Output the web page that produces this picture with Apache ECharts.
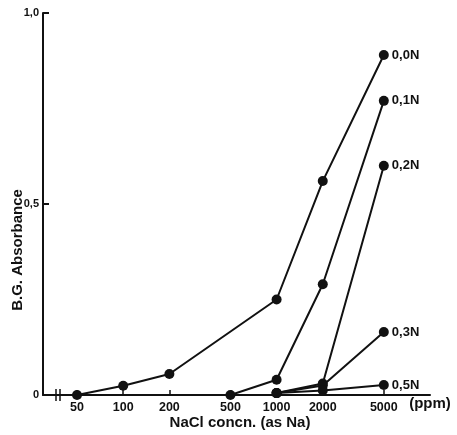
<!DOCTYPE html>
<html lang="en">
<head>
    <meta charset="UTF-8">
    <script type="text/javascript" src="https://cdn.jsdelivr.net/npm/echarts@6/dist/echarts.min.js"></script>
    <style>
        html, body { margin: 0; padding: 0; background: #fff; }
    </style>
</head>
<body>
    <div id="main" style="width: 457px;height: 435px;"></div>

    <script type="text/javascript">
        // tick values
        var xTicks = [50, 100, 200, 500, 1000, 2000, 5000];
        var yTicks = [0, 0.5, 1.0];

        // NaCl concn. (ppm) and B.G. absorbance per normality
        var seriesNames = ['0,0N', '0,1N', '0,2N', '0,3N', '0,5N'];
        var conc00 = [50, 100, 200, 1000, 2000, 5000];
        var abs00 = [0, 0.024, 0.055, 0.25, 0.56, 0.89];
        var conc01 = [500, 1000, 2000, 5000];
        var abs01 = [0, 0.04, 0.29, 0.77];
        var conc02 = [1000, 2000, 5000];
        var abs02 = [0.005, 0.03, 0.6];
        var conc03 = [1000, 2000, 5000];
        var abs03 = [0.005, 0.025, 0.165];
        var conc05 = [1000, 2000, 5000];
        var abs05 = [0.005, 0.012, 0.026];

        var ink = '#111';
        var font = 'Liberation Sans';

        function pairs(xs, ys) {
            return xs.map(function (x, i) { return [x, ys[i]]; });
        }

        function makeSeries(name, xs, ys) {
            var d = pairs(xs, ys);
            var last = d.length - 1;
            return {
                name: name,
                type: 'line',
                symbol: 'circle',
                symbolSize: 10,
                lineStyle: { color: ink, width: 2 },
                itemStyle: { color: ink },
                z: 3,
                data: d.map(function (p, i) {
                    if (i !== last) return p;
                    return {
                        value: p,
                        label: {
                            show: true,
                            position: 'right',
                            distance: 3,
                            formatter: name,
                            color: ink,
                            fontFamily: font,
                            fontWeight: 'bold',
                            fontSize: 13
                        }
                    };
                })
            };
        }

        var myChart = echarts.init(document.getElementById('main'));
        var option = {
            backgroundColor: '#fff',
            animation: false,
            grid: { left: 43, right: 27, top: 13, bottom: 40 },
            xAxis: {
                type: 'log',
                logBase: 10,
                min: 30,
                max: 10000,
                axisLine: { lineStyle: { color: ink, width: 2 } },
                axisTick: { inside: true, length: 5, customValues: xTicks, lineStyle: { color: ink, width: 1.5 } },
                axisLabel: {
                    customValues: xTicks,
                    color: ink,
                    fontFamily: font,
                    fontSize: 12.5,
                    fontWeight: 'bold',
                    margin: 6,
                    formatter: function (v) { return String(Math.round(v)); }
                },
                splitLine: { show: false },
                minorTick: { show: false }
            },
            yAxis: {
                type: 'value',
                min: 0,
                max: 1.0,
                axisLine: { show: true, lineStyle: { color: ink, width: 2 } },
                axisTick: { show: true, inside: true, length: 6, customValues: yTicks, lineStyle: { color: ink, width: 2 } },
                axisLabel: {
                    customValues: yTicks,
                    color: ink,
                    fontFamily: font,
                    fontSize: 11,
                    fontWeight: 'bold',
                    margin: 4,
                    formatter: function (v) {
                        return v === 0 ? '0' : v.toFixed(1).replace('.', ',');
                    }
                },
                splitLine: { show: false }
            },
            graphic: [
                {
                    type: 'text',
                    x: 18, y: 250,
                    rotation: Math.PI / 2,
                    style: {
                        text: 'B.G. Absorbance',
                        fill: ink,
                        font: 'bold 15px "Liberation Sans"',
                        align: 'center',
                        verticalAlign: 'middle'
                    }
                },
                {
                    type: 'text',
                    x: 240, y: 423,
                    style: {
                        text: 'NaCl concn. (as Na)',
                        fill: ink,
                        font: 'bold 15px "Liberation Sans"',
                        align: 'center',
                        verticalAlign: 'middle'
                    }
                },
                {
                    type: 'text',
                    x: 430, y: 404,
                    style: {
                        text: '(ppm)',
                        fill: ink,
                        font: 'bold 15px "Liberation Sans"',
                        align: 'center',
                        verticalAlign: 'middle'
                    }
                },
                // axis break mark
                {
                    type: 'line',
                    shape: { x1: 56, y1: 389, x2: 56, y2: 401 },
                    style: { stroke: ink, lineWidth: 1.5 }
                },
                {
                    type: 'line',
                    shape: { x1: 60, y1: 389, x2: 60, y2: 401 },
                    style: { stroke: ink, lineWidth: 1.5 }
                }
            ],
            series: [
                makeSeries(seriesNames[0], conc00, abs00),
                makeSeries(seriesNames[1], conc01, abs01),
                makeSeries(seriesNames[2], conc02, abs02),
                makeSeries(seriesNames[3], conc03, abs03),
                makeSeries(seriesNames[4], conc05, abs05)
            ]
        };
        myChart.setOption(option);
    </script>
</body>
</html>
